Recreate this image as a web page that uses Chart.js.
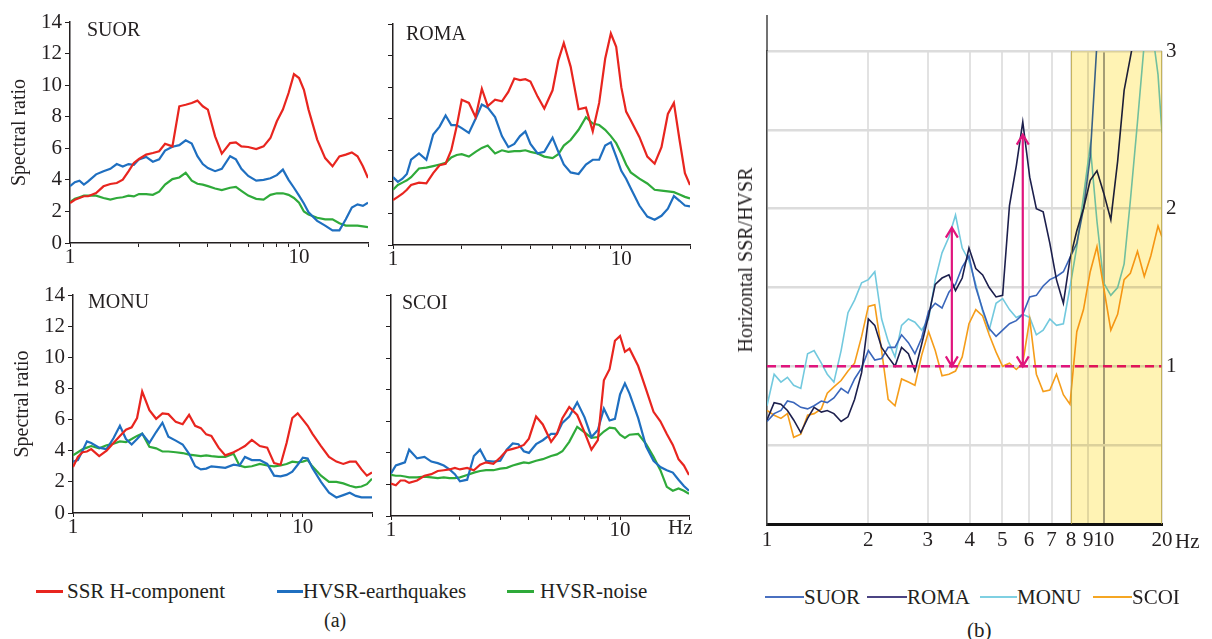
<!DOCTYPE html>
<html>
<head>
<meta charset="utf-8">
<script src="https://cdn.jsdelivr.net/npm/chart.js@4.4.1/dist/chart.umd.min.js"></script>
<style>
  html, body { margin: 0; padding: 0; background: #fff; }
  #fig { position: relative; width: 1212px; height: 639px; overflow: hidden;
         font-family: "Liberation Serif", "Times New Roman", serif; color: #231f20; }
  #fig canvas { position: absolute; }
  .t { position: absolute; white-space: nowrap; line-height: 1; transform: translateY(-50%); }
  .sw { position: absolute; }
</style>
</head>
<body>
<div id="fig">
  <canvas id="cSUOR" width="380" height="270" style="left:0;top:0"></canvas>
  <canvas id="cROMA" width="320" height="270" style="left:380px;top:0"></canvas>
  <canvas id="cMONU" width="380" height="270" style="left:0;top:270px"></canvas>
  <canvas id="cSCOI" width="320" height="270" style="left:380px;top:270px"></canvas>
  <canvas id="cB" width="512" height="560" style="left:700px;top:0"></canvas>

  <div class="t" style="left:87px;top:29px;font-size:20px">SUOR</div>
  <div class="t" style="left:406px;top:33px;font-size:20px">ROMA</div>
  <div class="t" style="left:88px;top:301px;font-size:20px">MONU</div>
  <div class="t" style="left:402px;top:302px;font-size:20px">SCOI</div>
  <div class="t" style="left:668px;top:527px;font-size:21px">Hz</div>

  <div class="sw" style="left:36px;top:590px;width:27px;height:3px;background:#e8251f"></div>
  <div class="t" style="left:67px;top:591px;font-size:21px">SSR H-component</div>
  <div class="sw" style="left:277px;top:590px;width:26px;height:3px;background:#1f6fc0"></div>
  <div class="t" style="left:303px;top:591px;font-size:21px">HVSR-earthquakes</div>
  <div class="sw" style="left:507px;top:590px;width:27px;height:3px;background:#2faa3a"></div>
  <div class="t" style="left:540px;top:591px;font-size:21px">HVSR-noise</div>
  <div class="t" style="left:324px;top:620px;font-size:20px">(a)</div>

  <div class="t" style="left:745px;top:260px;font-size:20px;transform:translate(-50%,-50%) rotate(-90deg)">Horizontal SSR/HVSR</div>
  <div class="t" style="left:1175px;top:541px;font-size:21px">Hz</div>

  <div class="sw" style="left:765px;top:596px;width:39px;height:2px;background:#4a70c0"></div>
  <div class="t" style="left:804px;top:597px;font-size:21px">SUOR</div>
  <div class="sw" style="left:867px;top:596px;width:40px;height:2px;background:#4b4483"></div>
  <div class="t" style="left:907px;top:597px;font-size:21px">ROMA</div>
  <div class="sw" style="left:980px;top:596px;width:37px;height:2px;background:#7fd0e2"></div>
  <div class="t" style="left:1017px;top:597px;font-size:21px">MONU</div>
  <div class="sw" style="left:1093px;top:596px;width:39px;height:2px;background:#f5a623"></div>
  <div class="t" style="left:1132px;top:597px;font-size:21px">SCOI</div>
  <div class="t" style="left:967px;top:630px;font-size:21px">(b)</div>
</div>

<script>
// ---- (a) spectral ratios, frequency in Hz ----
const freqA = [1, 1.05, 1.1, 1.15, 1.2, 1.3, 1.4, 1.5, 1.6, 1.7, 1.8, 1.9, 2, 2.15, 2.3, 2.45, 2.6, 2.8, 3, 3.2,
  3.4, 3.6, 3.8, 4, 4.3, 4.6, 5, 5.3, 5.6, 6, 6.5, 7, 7.5, 8, 8.5, 9, 9.5, 10, 10.5, 11,
  12, 13, 14, 15, 16, 17, 18, 19, 20];
const xTicksA = [1, 2, 3, 4, 5, 6, 7, 8, 9, 10, 20];
const xLabelsA = [1, 10];

const suorSSR = [2.53, 2.74, 2.85, 2.96, 2.96, 3.17, 3.59, 3.74, 3.8, 4.01, 4.54, 5.07, 5.32, 5.6, 5.7, 5.81, 6.29, 6.12, 8.66, 8.76,
  8.87, 9.02, 8.66, 8.45, 6.76, 5.66, 6.33, 6.38, 6.12, 6.08, 5.95, 6.12, 6.65, 7.71, 8.45, 9.5, 10.7, 10.45, 9.71, 8.45,
  6.55, 5.38, 4.86, 5.49, 5.6, 5.74, 5.49, 4.86, 4.12];
const suorEq = [3.6, 3.85, 3.95, 3.7, 3.9, 4.35, 4.55, 4.7, 5.0, 4.85, 5.0, 4.95, 5.3, 5.45, 5.15, 5.3, 5.85, 6.1, 6.2, 6.5,
  6.3, 5.5, 5.0, 4.75, 4.55, 4.7, 5.5, 5.3, 4.7, 4.25, 3.95, 4.0, 4.1, 4.3, 4.65, 4.0, 3.5, 3.0, 2.5, 1.95,
  1.4, 1.1, 0.8, 0.8, 1.5, 2.25, 2.45, 2.35, 2.55];
const suorNoise = [2.6, 2.8, 2.9, 3.0, 3.0, 3.0, 2.85, 2.75, 2.85, 2.9, 3.0, 2.95, 3.1, 3.1, 3.05, 3.25, 3.7, 4.05, 4.15, 4.45,
  3.95, 3.75, 3.7, 3.6, 3.45, 3.35, 3.5, 3.55, 3.3, 3.0, 2.8, 2.75, 3.05, 3.15, 3.15, 3.05, 2.85, 2.55, 2.0, 1.8,
  1.6, 1.5, 1.5, 1.25, 1.1, 1.1, 1.1, 1.05, 1.0];

const romaSSR = [2.85, 3.05, 3.25, 3.5, 3.8, 3.95, 3.9, 4.55, 5.05, 5.15, 6.0, 7.5, 9.2, 9.0, 8.1, 9.9, 8.8, 9.2, 9.1, 9.7,
  10.55, 10.45, 10.5, 10.35, 9.4, 8.65, 9.8, 11.7, 12.8, 11.3, 8.6, 8.7, 7.2, 9.0, 11.8, 13.4, 12.55, 10.0, 8.45, 7.9,
  6.85, 5.6, 5.15, 6.2, 8.3, 9.0, 6.65, 4.55, 3.8];
const romaEq = [4.3, 4.0, 4.2, 4.5, 5.4, 5.8, 5.4, 7.0, 7.5, 8.2, 7.6, 7.6, 7.4, 7.1, 8.0, 8.9, 8.7, 8.1, 6.9, 6.2,
  6.4, 6.9, 7.2, 6.4, 5.8, 5.9, 6.8, 5.9, 5.1, 4.6, 4.5, 5.1, 5.4, 5.4, 6.3, 6.5, 5.6, 4.7, 4.2, 3.6,
  2.5, 1.8, 1.6, 1.85, 2.3, 3.1, 2.8, 2.5, 2.45];
const romaNoise = [3.5, 3.8, 3.95, 4.1, 4.3, 4.85, 4.9, 5.0, 5.1, 5.2, 5.55, 5.7, 5.75, 5.6, 5.9, 6.15, 6.3, 5.8, 6.0, 5.9,
  5.95, 5.95, 6.0, 5.9, 5.8, 5.6, 5.5, 5.75, 6.3, 6.65, 7.3, 8.1, 7.7, 7.6, 7.3, 6.9, 6.45, 5.8, 5.1, 4.6,
  4.2, 3.9, 3.5, 3.45, 3.4, 3.35, 3.2, 3.05, 2.95];

const monuSSR = [2.95, 3.6, 3.9, 3.95, 4.1, 3.65, 4.0, 4.5, 4.95, 5.35, 5.5, 6.1, 7.8, 6.6, 6.05, 6.4, 6.35, 5.85, 5.7, 6.3,
  5.6, 5.45, 5.05, 4.95, 4.2, 3.7, 3.9, 4.1, 4.3, 4.7, 4.3, 4.2, 3.2, 3.1, 4.5, 6.1, 6.4, 6.0, 5.6, 5.1,
  4.3, 3.6, 3.3, 3.15, 3.3, 3.3, 2.8, 2.4, 2.6];
const monuEq = [3.3, 3.4, 4.0, 4.6, 4.5, 4.2, 4.1, 4.8, 5.6, 4.75, 4.4, 4.75, 5.1, 4.5, 5.2, 5.8, 4.9, 4.65, 4.4, 3.8,
  3.0, 2.8, 2.85, 3.0, 2.95, 2.9, 3.1, 3.05, 3.6, 3.4, 3.4, 3.15, 2.4, 2.35, 2.45, 2.65, 3.1, 3.55, 3.5, 2.9,
  2.0, 1.3, 1.0, 1.15, 1.3, 1.1, 1.0, 1.0, 1.0];
const monuNoise = [3.7, 3.9, 4.1, 4.2, 4.3, 4.15, 4.35, 4.45, 4.6, 4.55, 4.75, 4.95, 5.1, 4.25, 4.15, 3.95, 3.95, 3.9, 3.85, 3.75,
  3.7, 3.65, 3.7, 3.65, 3.6, 3.6, 3.8, 3.05, 2.95, 3.0, 3.15, 3.05, 3.0, 3.05, 3.15, 3.3, 3.25, 3.3, 3.4, 3.0,
  2.4, 2.0, 2.0, 1.9, 1.75, 1.65, 1.7, 1.85, 2.2];

const scoiSSR = [2.05, 1.95, 2.25, 2.25, 2.1, 2.25, 2.55, 2.65, 2.85, 2.9, 2.95, 3.05, 2.95, 3.05, 2.9, 3.25, 3.4, 3.3, 3.7, 4.15,
  4.25, 4.35, 4.5, 4.9, 6.3, 5.8, 4.7, 5.2, 6.2, 6.9, 6.4, 5.3, 4.2, 4.8, 8.6, 9.3, 11.1, 11.4, 10.4, 10.6,
  9.5, 8.0, 6.6, 6.0, 5.2, 4.5, 3.6, 3.2, 2.6];
const scoiEq = [2.7, 3.2, 3.3, 3.4, 4.2, 3.65, 3.75, 3.45, 3.35, 3.2, 2.95, 2.65, 2.2, 2.3, 3.8, 4.2, 3.5, 3.45, 3.5, 4.2,
  4.6, 4.55, 4.1, 4.0, 4.55, 4.8, 5.2, 5.2, 5.9, 6.3, 7.2, 6.25, 5.0, 5.45, 6.8, 6.05, 6.15, 7.7, 8.4, 7.75,
  6.2, 4.4, 3.5, 3.1, 2.9, 2.75, 2.3, 1.9, 1.6];
const scoiNoise = [2.6, 2.55, 2.55, 2.5, 2.45, 2.45, 2.5, 2.45, 2.4, 2.45, 2.4, 2.4, 2.45, 2.6, 2.75, 2.85, 2.9, 2.9, 3.0, 3.05,
  3.2, 3.3, 3.4, 3.35, 3.5, 3.6, 3.8, 3.9, 4.1, 4.7, 5.65, 5.3, 4.95, 5.0, 5.35, 5.6, 5.55, 5.15, 4.95, 5.15,
  5.2, 4.55, 3.75, 2.9, 1.85, 1.6, 1.75, 1.6, 1.4];

// ---- (b) SSR/HVSR ratio ----
// the original axis is squeezed past 10 Hz: its last tick (labelled 20) sits where 14.9 would
const freqB = [1, 1.05, 1.1, 1.15, 1.2, 1.26, 1.32, 1.38, 1.45, 1.51, 1.58, 1.66, 1.74, 1.82, 1.91, 2, 2.09, 2.19, 2.29, 2.4,
  2.51, 2.63, 2.75, 2.88, 3.02, 3.16, 3.31, 3.47, 3.63, 3.8, 3.98, 4.17, 4.37, 4.57, 4.79, 5.01, 5.25, 5.5, 5.75, 6.03,
  6.31, 6.61, 6.92, 7.24, 7.59, 7.94, 8.32, 8.71, 9.12, 9.55, 10, 10.5, 11, 11.5, 12, 12.6, 13.2, 13.8, 14.5, 14.9];
const bTickValues = [1, 2, 3, 4, 5, 6, 7, 8, 9, 10, 14.9];
const bTickLabels = ['1', '2', '3', '4', '5', '6', '7', '8', '9', '10', '20'];

const bSUOR = [0.65, 0.7, 0.72, 0.78, 0.77, 0.74, 0.73, 0.75, 0.78, 0.77, 0.8, 0.86, 0.83, 0.92, 0.99, 1.1, 1.04, 1.05, 1.12, 1.12,
  1.2, 1.15, 1.08, 1.18, 1.35, 1.4, 1.37, 1.47, 1.52, 1.63, 1.7, 1.5, 1.36, 1.24, 1.19, 1.23, 1.27, 1.29, 1.33, 1.44,
  1.45, 1.51, 1.55, 1.57, 1.6, 1.69, 1.78, 2.0, 2.33, 3.05, 3.3, 3.5, 3.6, 3.7, 3.8, 3.9, 4.0, 4.1, 4.2, 4.2];
const bROMA = [0.66, 0.77, 0.76, 0.72, 0.66, 0.58, 0.67, 0.74, 0.71, 0.72, 0.7, 0.65, 0.68, 0.79, 0.96, 1.3, 1.26, 1.12, 1.06, 1.0,
  1.12, 1.08, 0.97, 1.14, 1.32, 1.52, 1.56, 1.58, 1.48, 1.56, 1.75, 1.62, 1.58, 1.5, 1.44, 1.45, 2.02, 2.27, 2.55, 2.2,
  2.0, 1.98, 1.78, 1.55, 1.4, 1.68, 1.86, 2.0, 2.18, 2.24, 2.1, 1.93, 2.3, 2.75, 2.96, 3.2, 3.3, 3.4, 3.5, 3.5];
const bMONU = [0.75, 0.95, 0.9, 0.93, 0.88, 0.86, 1.08, 1.1, 1.02, 0.95, 0.9, 1.1, 1.34, 1.42, 1.53, 1.55, 1.6, 1.3, 1.16, 1.06,
  1.26, 1.3, 1.28, 1.23, 1.3, 1.55, 1.72, 1.82, 1.96, 1.75, 1.67, 1.52, 1.35, 1.23, 1.4, 1.43, 1.36, 1.31, 1.33, 1.31,
  1.2, 1.23, 1.3, 1.26, 1.27, 1.5, 1.76, 2.08, 2.4, 1.92, 1.53, 1.45, 1.5, 1.65, 2.05, 2.55, 3.05, 3.2, 2.85, 2.48];
const bSCOI = [0.72, 0.69, 0.67, 0.7, 0.55, 0.57, 0.69, 0.7, 0.73, 0.83, 0.87, 0.91, 0.97, 1.02, 1.19, 1.38, 1.39, 1.1, 0.79, 0.75,
  0.92, 0.9, 0.88, 1.07, 1.22, 1.1, 0.94, 0.95, 0.97, 1.06, 1.27, 1.36, 1.32, 1.2, 1.09, 1.0, 1.02, 0.98, 1.02, 1.3,
  0.95, 0.84, 0.85, 0.95, 0.82, 0.76, 1.22, 1.36, 1.6, 1.76, 1.5, 1.23, 1.33, 1.55, 1.59, 1.73, 1.57, 1.7, 1.89, 1.82];

const refLevel = 1;          // dashed line
const bandFrom = 8;          // yellow band starts at 8 Hz
const arrowFreqs = [3.54, 5.75];
const arrowTops = [1.88, 2.47];

const INK = '#231f20';
const SERIF = '"Liberation Serif", "Times New Roman", serif';
const RED = '#e8251f', BLUE = '#1f6fc0', GREEN = '#2faa3a';

const pts = (xs, ys) => xs.map((x, i) => ({ x, y: ys[i] }));

// one small panel of (a); box = pixel sizes of the axes around the plot area
const panel = (id, ssr, eq, noise, box) => new Chart(document.getElementById(id), {
  type: 'line',
  data: {
    datasets: [
      { data: pts(freqA, ssr), borderColor: RED },
      { data: pts(freqA, eq), borderColor: BLUE },
      { data: pts(freqA, noise), borderColor: GREEN }
    ].map(d => ({ ...d, borderWidth: 2.2, pointRadius: 0, tension: 0 }))
  },
  options: {
    responsive: false, animation: false, events: [],
    layout: { padding: { top: box.top, right: box.right, left: 0, bottom: 0 } },
    plugins: { legend: { display: false }, tooltip: { enabled: false } },
    scales: {
      x: {
        type: 'logarithmic', min: 1, max: 20,
        afterBuildTicks: sc => { sc.ticks = xTicksA.map(v => ({ value: v })); },
        afterFit: sc => { sc.height = box.bottom; },
        ticks: {
          autoSkip: false, maxRotation: 0, padding: 0, color: INK,
          font: { family: SERIF, size: 21, lineHeight: 1 },
          callback: v => (xLabelsA.includes(v) ? String(v) : '')
        },
        grid: { drawOnChartArea: false, drawTicks: true, tickLength: 4, color: INK, lineWidth: 1 },
        border: { color: INK, width: 1.5 }
      },
      y: {
        min: 0, max: 14,
        afterFit: sc => { sc.width = box.left; },
        ticks: {
          stepSize: 2, padding: 3, color: INK,
          font: { family: SERIF, size: 21, lineHeight: 1 },
          callback: v => (box.labels ? v : '')
        },
        grid: { drawOnChartArea: false, drawTicks: true, tickLength: 5, color: INK, lineWidth: 1 },
        border: { color: INK, width: 1.5 },
        title: {
          display: box.labels, text: 'Spectral ratio', color: INK,
          font: { family: SERIF, size: 20 }, padding: { top: box.titlePad || 0, bottom: 0 }
        }
      }
    }
  }
});

panel('cSUOR', suorSSR, suorEq, suorNoise, { left: 70, top: 22, right: 12, bottom: 27, labels: true, titlePad: 7.5 });
panel('cROMA', romaSSR, romaEq, romaNoise, { left: 13, top: 24, right: 10, bottom: 25, labels: false });
panel('cMONU', monuSSR, monuEq, monuNoise, { left: 73, top: 25, right: 8, bottom: 27, labels: true, titlePad: 11 });
panel('cSCOI', scoiSSR, scoiEq, scoiNoise, { left: 11, top: 25, right: 11, bottom: 24, labels: false });

// dashed level, yellow band (multiplied over the curves) and the two arrows
const MAGENTA = '#e0157d';
const bandPlugin = {
  id: 'band',
  afterDatasetsDraw(chart) {
    const { ctx, chartArea: a, scales: { x, y } } = chart;
    const yl = y.getPixelForValue(refLevel);
    ctx.save();
    ctx.strokeStyle = MAGENTA;
    ctx.lineWidth = 2.5;
    ctx.setLineDash([9, 5]);
    ctx.beginPath();
    ctx.moveTo(a.left, yl);
    ctx.lineTo(a.right, yl);
    ctx.stroke();
    ctx.restore();

    const xb = x.getPixelForValue(bandFrom);
    ctx.save();
    ctx.globalCompositeOperation = 'multiply';
    ctx.fillStyle = '#fff3b4';
    ctx.fillRect(xb, a.top, a.right - xb, a.bottom - a.top);
    ctx.restore();
    ctx.save();
    ctx.strokeStyle = 'rgba(185,165,70,0.75)';
    ctx.lineWidth = 1;
    ctx.beginPath();
    ctx.moveTo(xb + 0.5, a.top);
    ctx.lineTo(xb + 0.5, a.bottom);
    ctx.moveTo(a.right - 0.5, a.top);
    ctx.lineTo(a.right - 0.5, a.bottom);
    ctx.stroke();
    ctx.restore();

    ctx.save();
    ctx.strokeStyle = MAGENTA;
    ctx.lineWidth = 2.2;
    arrowFreqs.forEach((f, i) => {
      const ax = x.getPixelForValue(f);
      const yt = y.getPixelForValue(arrowTops[i]);
      ctx.beginPath();
      ctx.moveTo(ax, yl);
      ctx.lineTo(ax, yt);
      ctx.moveTo(ax - 6, yt + 10);
      ctx.lineTo(ax, yt);
      ctx.lineTo(ax + 6, yt + 10);
      ctx.moveTo(ax - 6, yl - 10);
      ctx.lineTo(ax, yl);
      ctx.lineTo(ax + 6, yl - 10);
      ctx.stroke();
    });
    ctx.restore();
  },
  afterDraw(chart) {
    // the vertical axis runs a little above the top gridline
    const { ctx, chartArea: a } = chart;
    ctx.save();
    ctx.strokeStyle = '#444';
    ctx.lineWidth = 1.5;
    ctx.beginPath();
    ctx.moveTo(a.left, a.top);
    ctx.lineTo(a.left, a.top - 36);
    ctx.stroke();
    ctx.restore();
  }
};

const bLine = (vals, color) => ({
  data: pts(freqB, vals), borderColor: color, borderWidth: 1.6, pointRadius: 0, tension: 0
});

new Chart(document.getElementById('cB'), {
  type: 'line',
  data: {
    datasets: [
      bLine(bROMA, '#1c1f4d'),
      bLine(bSUOR, '#3a66bb'),
      bLine(bSCOI, '#f59d1a'),
      bLine(bMONU, '#72c9de')
    ]
  },
  options: {
    responsive: false, animation: false, events: [],
    layout: { padding: { top: 51, right: 0, left: 0, bottom: 0 } },
    plugins: { legend: { display: false }, tooltip: { enabled: false } },
    scales: {
      x: {
        type: 'logarithmic', min: 1, max: 14.9,
        afterBuildTicks: sc => { sc.ticks = bTickValues.map(v => ({ value: v })); },
        afterFit: sc => { sc.height = 36; },
        ticks: {
          autoSkip: false, maxRotation: 0, padding: 6, color: INK,
          font: { family: SERIF, size: 21, lineHeight: 1 },
          callback: (v, i) => bTickLabels[i]
        },
        grid: {
          drawTicks: false, lineWidth: 2,
          color: c => (c.tick && c.tick.value === 10 ? '#a5a5a5' : '#e2e2e2')
        },
        border: { color: '#111', width: 3 }
      },
      y: {
        position: 'left', min: 0, max: 3,
        afterFit: sc => { sc.width = 67; },
        ticks: { stepSize: 0.5, display: false },
        grid: { drawTicks: false, color: '#dcdcdc', lineWidth: 2.5 },
        border: { color: '#444', width: 1.5 }
      },
      y2: {
        position: 'right', min: 0, max: 3,
        afterFit: sc => { sc.width = 50; },
        ticks: {
          stepSize: 1, padding: 4, color: INK,
          font: { family: SERIF, size: 21, lineHeight: 1 },
          callback: v => (v === 0 ? '' : String(v))
        },
        grid: { display: false, drawTicks: false },
        border: { display: false }
      }
    }
  },
  plugins: [bandPlugin]
});
</script>
</body>
</html>
